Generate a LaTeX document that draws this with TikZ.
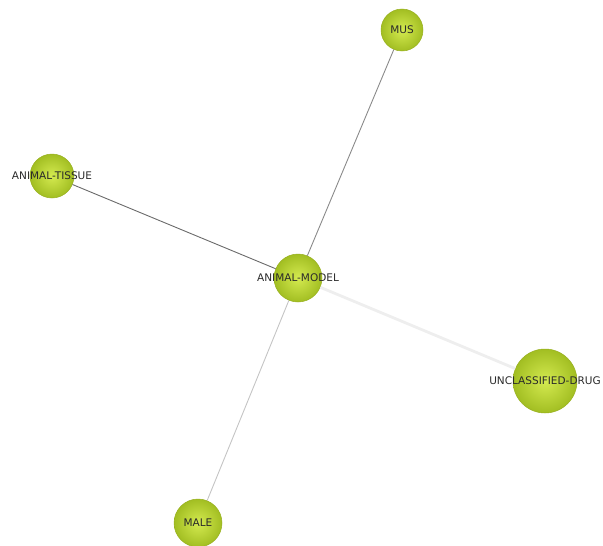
\documentclass[tikz,border=0pt]{standalone}
\usepackage{fontspec}
\usepackage{xcolor}
\usepackage{tikz}
\newfontfamily\lblfont{DejaVu Sans}
\definecolor{ballhi}{HTML}{D4EA50}
\definecolor{balllo}{HTML}{A2BE22}
\definecolor{ballrim}{HTML}{98B020}
\definecolor{ink}{HTML}{2A2A2A}
\definecolor{edgedark}{HTML}{6A6A6A}
\definecolor{edgemid}{HTML}{8A8A8A}
\definecolor{edgelight}{HTML}{C4C4C4}
\definecolor{edgefaint}{HTML}{EEEEEE}
\tikzset{
  ball/.style={circle,inner sep=0pt,draw=ballrim,line width=.5pt,
    shading=radial,inner color=ballhi,outer color=balllo},
  lbl/.style={text=ink,font=\lblfont\fontsize{10.5}{12}\selectfont,inner sep=0pt},
  tie/.style={line width=.9pt}
}
\begin{document}
\begin{tikzpicture}[x=1pt,y=-1pt]
  \useasboundingbox (0,0) rectangle (603,546);
  \node[ball,minimum size=42pt,label={[lbl]center:MUS}] (mus) at (402,30) {};
  \node[ball,minimum size=44pt,label={[lbl]center:ANIMAL-TISSUE}] (tissue) at (52,176) {};
  \node[ball,minimum size=48pt,label={[lbl]center:ANIMAL-MODEL}] (model) at (298,278) {};
  \node[ball,minimum size=64pt,label={[lbl]center:UNCLASSIFIED-DRUG}] (drug) at (545,381) {};
  \node[ball,minimum size=48pt,label={[lbl]center:MALE}] (male) at (198,523) {};
  \draw[tie,edgemid] (model) -- (mus);
  \draw[tie,edgedark] (model) -- (tissue);
  \draw[tie,edgefaint,line width=2.8pt] (model) -- (drug);
  \draw[tie,edgelight] (model) -- (male);
\end{tikzpicture}
\end{document}
